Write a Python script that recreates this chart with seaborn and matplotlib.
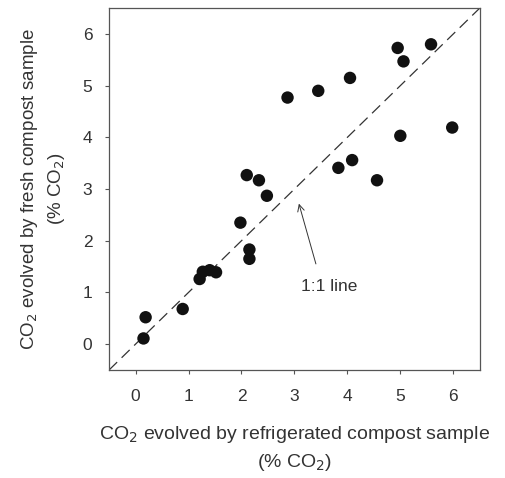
import matplotlib
matplotlib.use("Agg")
import matplotlib.pyplot as plt
import seaborn as sns
import pandas as pd

refrigerated = [4.95, 5.58, 5.06, 4.05, 3.45, 2.87, 5.98, 5.00, 4.09, 3.83, 4.56,
                2.10, 2.33, 2.48, 1.98, 2.15, 2.15, 1.21, 1.27, 1.40, 1.52, 0.89, 0.19, 0.15]
fresh = [5.73, 5.80, 5.47, 5.15, 4.90, 4.77, 4.19, 4.03, 3.56, 3.41, 3.17,
         3.27, 3.17, 2.87, 2.35, 1.83, 1.65, 1.26, 1.40, 1.43, 1.39, 0.68, 0.52, 0.11]
ticks = [0, 1, 2, 3, 4, 5, 6]
line_ends = [-0.5, 6.5]

sns.set_theme(style="ticks")
plt.rcParams['font.family'] = ['Liberation Sans', 'DejaVu Sans']

df = pd.DataFrame({"refrigerated": refrigerated, "fresh": fresh})

fig = plt.figure(figsize=(5.05, 4.78), dpi=100)
ax = fig.add_axes([0.216, 0.226, 0.734, 0.757])

ax.plot(line_ends, line_ends, color="#333333", lw=0.9, dashes=(9, 5), zorder=1)
sns.scatterplot(data=df, x="refrigerated", y="fresh", ax=ax, color="#111111",
                s=80, edgecolor="none", zorder=3, legend=False)

ax.set_xlim(-0.5, 6.5)
ax.set_ylim(-0.5, 6.5)
ax.set_xticks(ticks)
ax.set_yticks(ticks)
ax.tick_params(direction="out", length=3, width=0.8, colors="#555555",
               labelcolor="#333333", labelsize=12.5)
ax.tick_params(axis="x", pad=11)
ax.tick_params(axis="y", pad=9)
for sp in ax.spines.values():
    sp.set_visible(True)
    sp.set_color("#555555")
    sp.set_linewidth(0.9)

ax.set_xlabel("CO$_2$ evolved by refrigerated compost sample\n(% CO$_2$)",
              fontsize=14, color="#333333", labelpad=14, linespacing=1.5)
ax.set_ylabel("CO$_2$ evolved by fresh compost sample\n(% CO$_2$)",
              fontsize=13.5, color="#333333", labelpad=11, linespacing=1.45)

ax.annotate("", xy=(3.07, 2.77), xytext=(3.42, 1.50),
            arrowprops=dict(arrowstyle="->", color="#333333", lw=0.7))
ax.text(3.65, 1.11, "1:1 line", fontsize=12.5, color="#333333",
        ha="center", va="center")

fig.savefig("out.png", dpi=100)
